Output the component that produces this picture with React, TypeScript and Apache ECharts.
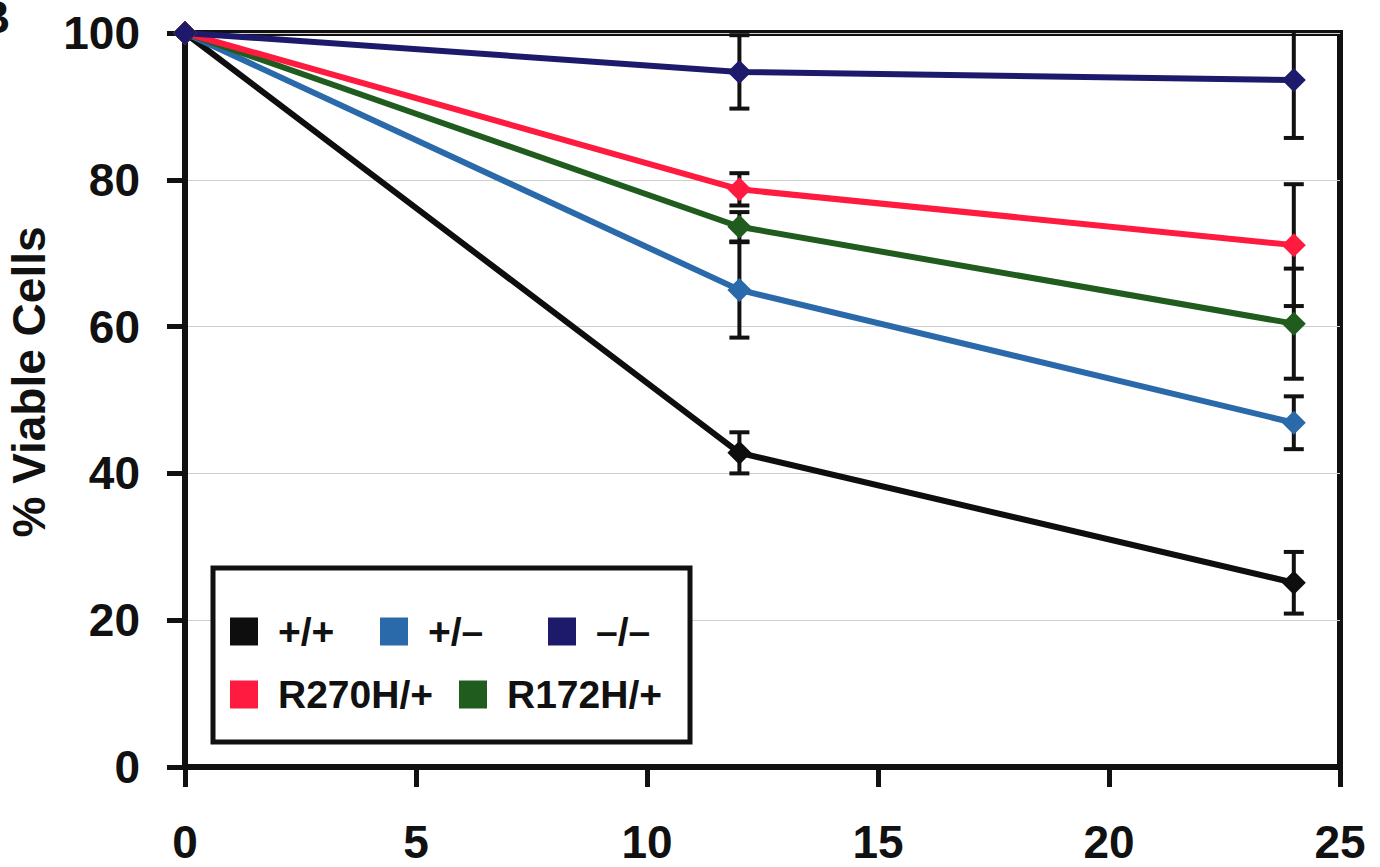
import React, { useEffect, useRef } from "react";
import * as echarts from "echarts";

const times = [0, 12, 24];
const seriesNames = ["+/+", "+/–", "–/–", "R270H/+", "R172H/+"];
const wtValues = [100, 42.8, 25.1];
const wtErr = [0, 2.8, 4.2];
const hetValues = [100, 65.0, 46.9];
const hetErr = [0, 6.5, 3.6];
const nullValues = [100, 94.7, 93.6];
const nullErr = [0, 5.0, 7.9];
const r270Values = [100, 78.7, 71.1];
const r270Err = [0, 2.2, 8.3];
const r172Values = [100, 73.6, 60.4];
const r172Err = [0, 2.0, 7.5];
const xTicks = [0, 5, 10, 15, 20, 25];
const yTicks = [0, 20, 40, 60, 80, 100];

const colors: Record<string, string> = {
  "+/+": "#0e0e0e",
  "+/–": "#2b6aaa",
  "–/–": "#1d1a6b",
  "R270H/+": "#ff1a40",
  "R172H/+": "#1f5c1e",
};

const FONT = "'Liberation Sans', Arial, Helvetica, sans-serif";

export default function App() {
  const ref = useRef<HTMLDivElement>(null);
  useEffect(() => {
    if (!ref.current) return;
    const chart = echarts.init(ref.current, undefined, { renderer: "svg" });

    const groups = [
      { name: seriesNames[0], v: wtValues, e: wtErr },
      { name: seriesNames[1], v: hetValues, e: hetErr },
      { name: seriesNames[4], v: r172Values, e: r172Err },
      { name: seriesNames[3], v: r270Values, e: r270Err },
      { name: seriesNames[2], v: nullValues, e: nullErr },
    ];

    const errData: number[][] = [];
    groups.forEach((g) => {
      times.forEach((t, i) => {
        if (g.e[i] > 0) errData.push([t, g.v[i] - g.e[i], g.v[i] + g.e[i]]);
      });
    });

    const lineSeries = groups.map((g) => ({
      type: "line",
      name: g.name,
      data: times.map((t, i) => [t, g.v[i]]),
      symbol: "diamond",
      symbolSize: 24,
      color: colors[g.name],
      lineStyle: { width: 6, color: colors[g.name] },
      itemStyle: { color: colors[g.name] },
      z: 5,
      clip: false,
    }));

    const errSeries = {
      type: "custom",
      name: "err",
      data: errData,
      clip: true,
      z: 3,
      renderItem: (params: any, api: any) => {
        const x = api.value(0);
        const lo = api.coord([x, api.value(1)]);
        const hi = api.coord([x, api.value(2)]);
        const hw = 10;
        const style = { stroke: "#111", lineWidth: 4 };
        return {
          type: "group",
          children: [
            { type: "line", shape: { x1: lo[0], y1: lo[1], x2: hi[0], y2: hi[1] }, style },
            { type: "line", shape: { x1: lo[0] - hw, y1: lo[1], x2: lo[0] + hw, y2: lo[1] }, style },
            { type: "line", shape: { x1: hi[0] - hw, y1: hi[1], x2: hi[0] + hw, y2: hi[1] }, style },
          ],
        };
      },
    };

    const legendPos = [
      { name: seriesNames[0], left: 230, top: 612 },
      { name: seriesNames[1], left: 380, top: 612 },
      { name: seriesNames[2], left: 548, top: 612 },
      { name: seriesNames[3], left: 230, top: 675 },
      { name: seriesNames[4], left: 459, top: 675 },
    ];

    const legends = legendPos.map((l) => ({
      data: [l.name],
      left: l.left,
      top: l.top,
      padding: 0,
      icon: "rect",
      itemWidth: 28,
      itemHeight: 28,
      itemGap: 0,
      z: 20,
      selectedMode: false,
      itemStyle: { borderWidth: 0 },
      lineStyle: { width: 0 },
      textStyle: {
        fontSize: 39,
        fontWeight: "bold",
        fontFamily: FONT,
        color: "#111",
        padding: [0, 0, 0, 15],
      },
    }));

    chart.setOption({
      animation: false,
      backgroundColor: "#fff",
      grid: {
        left: 185,
        right: 40,
        top: 33,
        bottom: 100,
        show: true,
        borderColor: "#111",
        borderWidth: 6,
        backgroundColor: "transparent",
        containLabel: false,
        outerBoundsMode: "none",
      },
      legend: legends,
      xAxis: {
        type: "value",
        min: xTicks[0],
        max: xTicks[xTicks.length - 1],
        interval: 5,
        axisLine: { show: true, onZero: false, lineStyle: { color: "#111", width: 5 } },
        axisTick: { show: true, length: 20, lineStyle: { color: "#111", width: 5 } },
        axisLabel: {
          fontSize: 46,
          fontWeight: "bold",
          fontFamily: FONT,
          color: "#111",
          margin: 52,
        },
        splitLine: { show: false },
      },
      yAxis: {
        type: "value",
        min: yTicks[0],
        max: yTicks[yTicks.length - 1],
        interval: 20,
        name: "% Viable Cells",
        nameLocation: "middle",
        nameGap: 127,
        nameTextStyle: {
          fontSize: 46,
          fontWeight: "bold",
          fontFamily: FONT,
          color: "#111",
          padding: [0, 0, 0, 36],
        },
        axisLine: { show: true, onZero: false, lineStyle: { color: "#111", width: 5 } },
        axisTick: { show: true, length: 18, lineStyle: { color: "#111", width: 5 } },
        axisLabel: {
          fontSize: 46,
          fontWeight: "bold",
          fontFamily: FONT,
          color: "#111",
          margin: 45,
        },
        splitLine: { show: true, lineStyle: { color: "#cfcfcf", width: 1 } },
      },
      graphic: [
        {
          type: "rect",
          z: 10,
          shape: { x: 213, y: 568, width: 477, height: 174 },
          style: { fill: "#fff", stroke: "#111", lineWidth: 5 },
        },
        {
          type: "text",
          z: 10,
          x: -23,
          y: -6,
          style: {
            text: "B",
            fontSize: 46,
            fontWeight: "bold",
            fontFamily: FONT,
            fill: "#111",
          },
        },
      ],
      series: [errSeries, ...lineSeries],
    });
    return () => chart.dispose();
  }, []);
  return (
    <div
      ref={ref}
      style={{ position: "fixed", left: 0, top: 0, width: 1380, height: 867 }}
    />
  );
}
